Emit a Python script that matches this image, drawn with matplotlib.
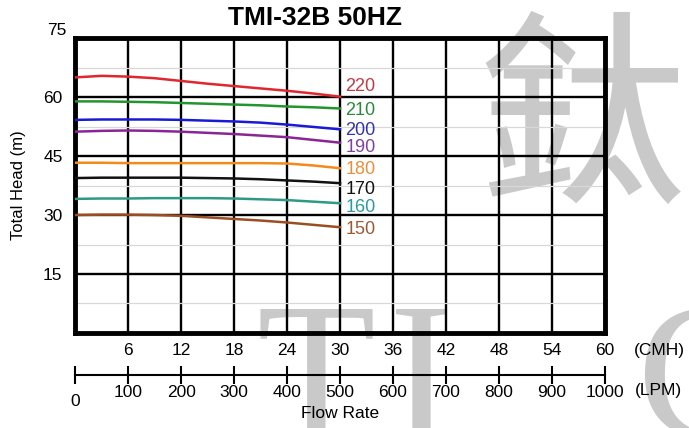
import matplotlib
matplotlib.use("Agg")
import matplotlib.pyplot as plt
from matplotlib.ticker import MultipleLocator

plt.rcParams['font.family'] = ['Liberation Sans', 'DejaVu Sans']

# --- DATOS ---
caudal_cmh = [0, 3, 6, 9, 12, 15, 18, 21, 24, 27, 30]
etiquetas = ['220', '210', '200', '190', '180', '170', '160', '150']
h220 = [65.0, 65.4, 65.2, 64.8, 64.1, 63.4, 62.8, 62.2, 61.6, 60.9, 60.1]
h210 = [58.9, 58.9, 58.8, 58.7, 58.5, 58.3, 58.1, 57.9, 57.6, 57.4, 57.1]
h200 = [54.2, 54.3, 54.3, 54.3, 54.2, 54.0, 53.8, 53.5, 53.0, 52.4, 51.8]
h190 = [51.2, 51.4, 51.5, 51.4, 51.2, 50.9, 50.6, 50.2, 49.8, 49.1, 48.4]
h180 = [43.3, 43.3, 43.2, 43.2, 43.2, 43.2, 43.2, 43.2, 43.1, 42.6, 41.9]
h170 = [39.4, 39.5, 39.5, 39.5, 39.5, 39.4, 39.3, 39.1, 38.8, 38.5, 38.1]
h160 = [34.1, 34.2, 34.2, 34.3, 34.3, 34.3, 34.2, 34.0, 33.8, 33.4, 33.0]
h150 = [30.0, 30.1, 30.1, 30.0, 29.8, 29.4, 29.0, 28.6, 28.1, 27.5, 26.9]
curvas = [h220, h210, h200, h190, h180, h170, h160, h150]
# posicion de la etiqueta (m)
etiqueta_y = [62.8, 56.7, 51.4, 47.1, 41.5, 36.6, 31.8, 26.2]

cmh_ticks = [6, 12, 18, 24, 30, 36, 42, 48, 54, 60]
lpm_ticks = [0, 100, 200, 300, 400, 500, 600, 700, 800, 900, 1000]
head_ticks = [15, 30, 45, 60]

colores_linea = ['#e0262e', '#23952f', '#1a1ad6', '#8a2596', '#f28a1c', '#111111', '#2e9a84', '#9c4e23']
colores_texto = ['#c03a48', '#2a8a3c', '#3434b0', '#8040a0', '#e8903c', '#111111', '#2a9aa0', '#9a5a34']

fig = plt.figure(figsize=(6.89, 4.28), dpi=100)

# --- MARCA DE AGUA ---
gris = '#c9c9c9'
fig.text(0.845, 0.70, '鈦', fontsize=150, color=gris, ha='center', va='center',
         family=['Noto Sans CJK TC'], zorder=-1)
for letra, xp in [('T', 0.372), ('I', 0.565), ('C', 0.925)]:
    fig.text(xp, -0.02, letra, fontsize=140, color=gris, ha='left', va='baseline',
             family=['Liberation Serif'], zorder=-1)

# --- GRAFICO PRINCIPAL ---
ax = fig.add_axes([0.109, 0.222, 0.769, 0.689])
ax.set_facecolor('none')
ax.set_xlim(0, 60)
ax.set_ylim(0, 75)

ax.xaxis.set_major_locator(MultipleLocator(12))
ax.xaxis.set_minor_locator(MultipleLocator(6))
ax.yaxis.set_major_locator(MultipleLocator(15))
ax.yaxis.set_minor_locator(MultipleLocator(7.5))
ax.grid(which='minor', color='#d8d8d8', linewidth=0.9)
ax.grid(which='major', color='black', linewidth=1.7)
ax.set_axisbelow(True)

for nombre, h, cl, ct, ey in zip(etiquetas, curvas, colores_linea, colores_texto, etiqueta_y):
    ax.plot(caudal_cmh, h, color=cl, linewidth=1.8, zorder=3)
    ax.text(30.6, ey, nombre, color=ct, fontsize=13, ha='left', va='center', zorder=4)

for s in ax.spines.values():
    s.set_linewidth(3.5)
    s.set_color('black')

ax.set_xticks(cmh_ticks)
ax.set_xticklabels([str(t) for t in cmh_ticks])
ax.set_yticks(head_ticks)
ax.set_yticklabels([str(t) for t in head_ticks])
ax.tick_params(which='both', length=0, labelsize=12.5, pad=7)
ax.tick_params(axis='y', pad=9)
ax.text(-0.017, 1.0, '75', transform=ax.transAxes, ha='right', va='bottom', fontsize=12.5)
ax.text(1.055, -0.058, '(CMH)', transform=ax.transAxes, ha='left', va='center', fontsize=12.5)
ax.set_ylabel('Total Head (m)', fontsize=12, labelpad=12)
fig.text(0.457, 0.957, 'TMI-32B 50HZ', fontsize=19, fontweight='bold', ha='center', va='center')

# --- EJE LPM ---
ax2 = fig.add_axes([0.109, 0.124, 0.769, 0.0001])
ax2.set_facecolor('none')
ax2.set_xlim(0, 1000)
ax2.set_yticks([])
for k in ['top', 'left', 'right']:
    ax2.spines[k].set_visible(False)
ax2.spines['bottom'].set_linewidth(1.5)
ax2.set_xticks(lpm_ticks)
ax2.set_xticklabels([''] + [str(t) for t in lpm_ticks[1:]])
ax2.tick_params(axis='x', direction='inout', length=13, width=1.5, labelsize=12.5, pad=1)
fig.text(0.109, 0.062, '0', ha='center', va='center', fontsize=12.5)
fig.text(0.921, 0.088, '(LPM)', ha='left', va='center', fontsize=12.5)
fig.text(0.494, 0.035, 'Flow Rate', ha='center', va='center', fontsize=12.5)

fig.savefig('out.png', dpi=100)
